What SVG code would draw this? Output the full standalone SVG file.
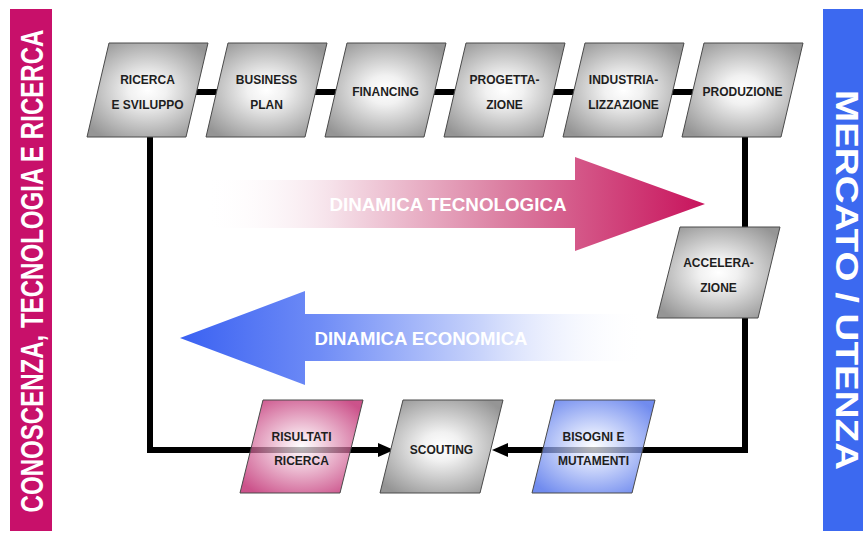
<svg xmlns="http://www.w3.org/2000/svg" width="865" height="535" viewBox="0 0 865 535">
<defs>
<style>
.n{stroke:#4a4a4a;stroke-width:1}
.t{font-family:"Liberation Sans",Arial,sans-serif;font-weight:bold;font-size:12px;fill:#1e1e1e;text-anchor:middle}
.big{font-family:"Liberation Sans",Arial,sans-serif;font-weight:bold;font-size:18px;fill:#ffffff;text-anchor:middle}
.side{font-family:"Liberation Sans",Arial,sans-serif;font-weight:bold;font-size:32px;fill:#ffffff;text-anchor:middle}
.c{fill:none;stroke:#000;stroke-width:6;stroke-linejoin:miter}
</style>
<radialGradient id="gGray" cx="0.5" cy="0.5" r="0.62">
<stop offset="0" stop-color="#ffffff"/>
<stop offset="0.25" stop-color="#f1f1f1"/>
<stop offset="1" stop-color="#959595"/>
</radialGradient>
<radialGradient id="gPink" cx="0.5" cy="0.5" r="0.62">
<stop offset="0" stop-color="#ffffff"/>
<stop offset="0.25" stop-color="#f0c8da"/>
<stop offset="1" stop-color="#b8105e"/>
</radialGradient>
<radialGradient id="gBlue" cx="0.5" cy="0.5" r="0.62">
<stop offset="0" stop-color="#ffffff"/>
<stop offset="0.25" stop-color="#d2dcfc"/>
<stop offset="1" stop-color="#3a5fe8"/>
</radialGradient>
<linearGradient id="gTec" gradientUnits="userSpaceOnUse" x1="205" y1="0" x2="705" y2="0">
<stop offset="0" stop-color="#ffffff" stop-opacity="0"/>
<stop offset="0.25" stop-color="#f6e2ea"/>
<stop offset="0.6" stop-color="#db7ea1"/>
<stop offset="1" stop-color="#c8135c"/>
</linearGradient>
<linearGradient id="gEco" gradientUnits="userSpaceOnUse" x1="180" y1="0" x2="645" y2="0">
<stop offset="0" stop-color="#3a61f2"/>
<stop offset="0.3" stop-color="#6f8cf6"/>
<stop offset="0.65" stop-color="#c9d4fb"/>
<stop offset="1" stop-color="#ffffff" stop-opacity="0"/>
</linearGradient>
<marker id="arr" markerUnits="userSpaceOnUse" markerWidth="16" markerHeight="14" viewBox="0 0 16 14" refX="1" refY="7" orient="auto">
<path d="M0,0 L16,7 L0,14 z" fill="#000"/>
</marker>
</defs>
<rect width="865" height="535" fill="#ffffff"/>

<g id="side-left">
<rect x="10" y="9" width="42" height="522" fill="#c8106a"/>
<text class="side" transform="translate(43,271) rotate(-90) scale(0.752,1)">CONOSCENZA, TECNOLOGIA E RICERCA</text>
</g>
<g id="side-right">
<rect x="823" y="9" width="40" height="522" fill="#3c69f0"/>
<text class="side" transform="translate(836,280) rotate(90)" textLength="380" lengthAdjust="spacingAndGlyphs">MERCATO / UTENZA</text>
</g>

<g id="arrow-tecnologica">
<polygon points="205,180 575,180 575,157 705,204 575,251 575,228 205,228" fill="url(#gTec)"/>
<text class="big" x="448" y="211" textLength="237" lengthAdjust="spacingAndGlyphs">DINAMICA TECNOLOGICA</text>
</g>
<g id="arrow-economica">
<polygon points="180,338 305,291 305,314 645,314 645,361 305,361 305,385" fill="url(#gEco)"/>
<text class="big" x="421" y="345" textLength="213" lengthAdjust="spacingAndGlyphs">DINAMICA ECONOMICA</text>
</g>

<g id="connectors">
<path class="c" d="M150,92 H745"/>
<path class="c" d="M150,137 V450 H379" marker-end="url(#arr)"/>
<path class="c" d="M745,137 V450 H507" marker-end="url(#arr)"/>
</g>

<g id="n-ricerca">
<polygon class="n" points="109,43 208,43 186,137 87,137" fill="url(#gGray)"/>
<text class="t" x="147.5" y="84">RICERCA</text>
<text class="t" x="147.5" y="109">E SVILUPPO</text>
</g>
<g id="n-business">
<polygon class="n" points="228,43 327,43 305,137 206,137" fill="url(#gGray)"/>
<text class="t" x="266.5" y="84">BUSINESS</text>
<text class="t" x="266.5" y="109">PLAN</text>
</g>
<g id="n-financing">
<polygon class="n" points="347,43 446,43 424,137 325,137" fill="url(#gGray)"/>
<text class="t" x="385.5" y="96">FINANCING</text>
</g>
<g id="n-progettazione">
<polygon class="n" points="466,43 565,43 543,137 444,137" fill="url(#gGray)"/>
<text class="t" x="504.5" y="84">PROGETTA-</text>
<text class="t" x="504.5" y="109">ZIONE</text>
</g>
<g id="n-industrializzazione">
<polygon class="n" points="585,43 684,43 662,137 563,137" fill="url(#gGray)"/>
<text class="t" x="623.5" y="84">INDUSTRIA-</text>
<text class="t" x="623.5" y="109">LIZZAZIONE</text>
</g>
<g id="n-produzione">
<polygon class="n" points="704,43 803,43 781,137 682,137" fill="url(#gGray)"/>
<text class="t" x="742.5" y="96">PRODUZIONE</text>
</g>
<g id="n-accelerazione">
<polygon class="n" points="680,227 780,227 758,318 657,318" fill="url(#gGray)"/>
<text class="t" x="718.5" y="267">ACCELERA-</text>
<text class="t" x="718.5" y="292">ZIONE</text>
</g>
<g id="n-risultati">
<polygon class="n" points="263,400 363,400 340,493 240,493" fill="url(#gPink)" fill-opacity="0.72"/>
<text class="t" x="301.5" y="441">RISULTATI</text>
<text class="t" x="301.5" y="465">RICERCA</text>
</g>
<g id="n-scouting">
<polygon class="n" points="403,400 503,400 480,493 380,493" fill="url(#gGray)"/>
<text class="t" x="441.5" y="454">SCOUTING</text>
</g>
<g id="n-bisogni">
<polygon class="n" points="555,400 655,400 632,493 532,493" fill="url(#gBlue)" fill-opacity="0.72"/>
<text class="t" x="593.5" y="441">BISOGNI E</text>
<text class="t" x="593.5" y="465">MUTAMENTI</text>
</g>
</svg>
